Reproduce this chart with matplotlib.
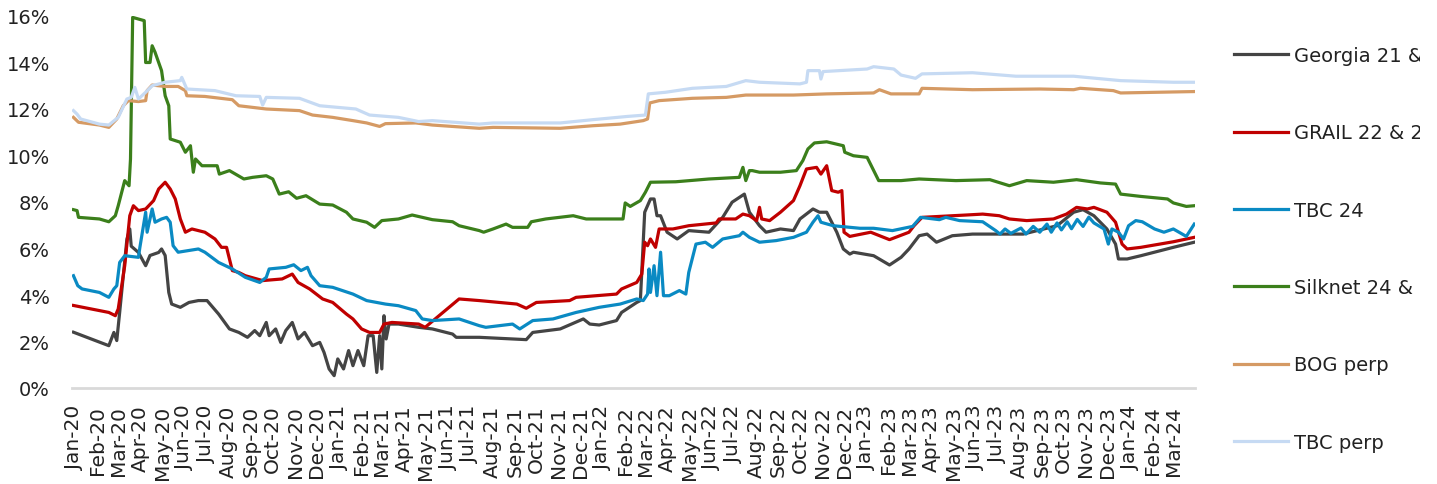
import matplotlib
matplotlib.use("Agg")
import matplotlib.pyplot as plt
import matplotlib.dates as mdates
from matplotlib.transforms import Bbox, TransformedBbox
import pandas as pd

plt.rcParams['font.family'] = ['DejaVu Sans']

labels = ["Georgia 21 & 26", "GRAIL 22 & 28", "TBC 24", "Silknet 24 & 27", "BOG perp", "TBC perp"]
colors = ["#444444", "#C00000", "#0A8AC3", "#3B7F1B", "#D59A64", "#C6DAF3"]

georgia = [("2019-12-30",2.40),("2020-02-17",1.82),("2020-02-24",2.39),("2020-02-28",2.04),("2020-03-03",3.25),
    ("2020-03-13",6.40),("2020-03-17",6.84),("2020-03-19",6.10),("2020-03-29",5.83),("2020-04-08",5.26),
    ("2020-04-14",5.70),("2020-04-26",5.83),("2020-04-30",5.98),("2020-05-05",5.70),("2020-05-10",4.11),
    ("2020-05-14",3.61),("2020-05-26",3.47),("2020-06-07",3.68),("2020-06-20",3.76),("2020-07-02",3.76),
    ("2020-07-18",3.18),("2020-08-02",2.54),("2020-08-15",2.39),("2020-08-27",2.18),("2020-09-06",2.47),
    ("2020-09-13",2.25),("2020-09-22",2.82),("2020-09-26",2.25),("2020-10-05",2.54),("2020-10-12",1.96),
    ("2020-10-19",2.47),("2020-10-28",2.82),("2020-11-05",2.11),("2020-11-14",2.39),("2020-11-25",1.82),
    ("2020-12-05",1.96),("2020-12-11",1.53),("2020-12-18",0.82),("2020-12-25",0.53),("2020-12-30",1.25),
    ("2021-01-07",0.82),("2021-01-14",1.61),("2021-01-20",0.96),("2021-01-27",1.61),("2021-02-04",0.96),
    ("2021-02-10",2.25),("2021-02-17",2.25),("2021-02-22",0.67),("2021-02-26",2.25),("2021-03-01",0.82),
    ("2021-03-04",3.11),("2021-03-07",2.11),("2021-03-11",2.75),("2021-03-24",2.75),("2021-04-21",2.61),
    ("2021-05-10",2.54),("2021-06-07",2.32),("2021-06-12",2.18),("2021-07-14",2.18),("2021-09-17",2.08),
    ("2021-09-26",2.39),("2021-11-03",2.54),("2021-12-05",2.97),("2021-12-14",2.75),("2021-12-27",2.71),
    ("2022-01-20",2.90),("2022-01-27",3.25),("2022-02-17",3.68),("2022-02-22",3.76),("2022-02-28",7.56),
    ("2022-03-08",8.13),("2022-03-13",8.13),("2022-03-17",7.41),("2022-03-22",7.41),("2022-03-31",6.70),
    ("2022-04-14",6.41),("2022-04-30",6.77),("2022-05-28",6.70),("2022-06-16",7.34),("2022-06-29",7.99),
    ("2022-07-16",8.34),("2022-07-23",7.56),("2022-08-06",6.98),("2022-08-15",6.70),("2022-09-04",6.84),
    ("2022-09-22",6.77),("2022-10-01",7.27),("2022-10-19",7.70),("2022-10-28",7.56),("2022-11-07",7.56),
    ("2022-11-21",6.70),("2022-11-30",5.98),("2022-12-09",5.76),("2022-12-14",5.84),("2023-01-11",5.69),
    ("2023-02-02",5.29),("2023-02-18",5.62),("2023-03-01",5.98),("2023-03-15",6.55),("2023-03-26",6.62),
    ("2023-04-08",6.27),("2023-04-30",6.55),("2023-05-28",6.62),("2023-06-25",6.62),("2023-08-06",6.62),
    ("2023-09-22",6.98),("2023-10-15",7.56),("2023-10-28",7.67),("2023-11-12",7.41),("2023-11-30",6.84),
    ("2023-12-12",6.19),("2023-12-16",5.55),("2023-12-28",5.55),("2024-01-16",5.69),("2024-03-01",6.05),
    ("2024-03-30",6.27)]

grail = [("2019-12-30",3.55),("2020-02-17",3.25),("2020-02-26",3.11),("2020-03-01",3.40),("2020-03-10",5.26),
    ("2020-03-17",7.41),("2020-03-22",7.84),("2020-03-29",7.63),("2020-04-08",7.70),("2020-04-19",8.06),
    ("2020-04-26",8.56),("2020-05-05",8.85),("2020-05-12",8.56),("2020-05-19",8.13),("2020-05-26",7.27),
    ("2020-06-02",6.70),("2020-06-11",6.84),("2020-06-29",6.70),("2020-07-13",6.41),("2020-07-22",6.05),
    ("2020-07-29",6.05),("2020-08-06",5.05),("2020-08-15",4.97),("2020-08-24",4.83),("2020-09-17",4.62),
    ("2020-10-14",4.69),("2020-10-28",4.90),("2020-11-05",4.54),("2020-11-21",4.26),("2020-12-09",3.83),
    ("2020-12-23",3.68),("2021-01-11",3.18),("2021-01-20",2.97),("2021-02-01",2.54),("2021-02-12",2.39),
    ("2021-02-26",2.39),("2021-03-04",2.75),("2021-03-15",2.82),("2021-04-21",2.75),("2021-04-30",2.61),
    ("2021-06-16",3.83),("2021-07-14",3.76),("2021-09-04",3.61),("2021-09-17",3.43),("2021-10-01",3.68),
    ("2021-11-16",3.76),("2021-11-25",3.90),("2022-01-20",4.04),("2022-01-27",4.26),("2022-02-17",4.54),
    ("2022-02-24",4.90),("2022-02-28",6.27),("2022-03-04",6.12),("2022-03-08",6.41),("2022-03-15",6.05),
    ("2022-03-20",6.84),("2022-04-08",6.84),("2022-04-30",6.98),("2022-06-07",7.10),("2022-06-11",7.27),
    ("2022-07-04",7.27),("2022-07-14",7.48),("2022-07-23",7.41),("2022-08-02",7.20),("2022-08-06",7.77),
    ("2022-08-09",7.27),("2022-08-20",7.20),("2022-09-04",7.56),("2022-09-22",8.06),("2022-10-01",8.70),
    ("2022-10-10",9.42),("2022-10-24",9.49),("2022-10-30",9.20),("2022-11-07",9.56),("2022-11-14",8.49),
    ("2022-11-23",8.42),("2022-11-28",8.49),("2022-12-01",6.70),("2022-12-09",6.52),("2023-01-07",6.70),
    ("2023-02-02",6.38),("2023-03-01",6.70),("2023-03-08",6.98),("2023-03-19",7.34),("2023-05-19",7.44),
    ("2023-06-11",7.48),("2023-07-04",7.41),("2023-07-18",7.27),("2023-08-11",7.20),("2023-09-17",7.27),
    ("2023-10-05",7.48),("2023-10-19",7.77),("2023-11-03",7.70),("2023-11-12",7.77),("2023-11-30",7.56),
    ("2023-12-12",7.13),("2023-12-21",6.19),("2023-12-28",5.98),("2024-01-16",6.05),("2024-03-01",6.29),
    ("2024-03-30",6.48)]

tbc24 = [("2019-12-30",4.83),("2020-01-05",4.40),("2020-01-11",4.26),("2020-02-04",4.11),("2020-02-17",3.90),
    ("2020-02-24",4.26),("2020-02-28",4.40),("2020-03-03",5.40),("2020-03-10",5.69),("2020-03-29",5.62),
    ("2020-03-31",6.05),("2020-04-08",7.56),("2020-04-10",6.70),("2020-04-17",7.70),("2020-04-21",7.13),
    ("2020-04-30",7.27),("2020-05-07",7.34),("2020-05-12",7.13),("2020-05-16",6.12),("2020-05-23",5.84),
    ("2020-06-20",5.98),("2020-06-29",5.84),("2020-07-18",5.40),("2020-08-06",5.12),("2020-08-24",4.76),
    ("2020-09-13",4.54),("2020-09-22",4.76),("2020-09-26",5.12),("2020-10-19",5.19),("2020-10-30",5.30),
    ("2020-11-09",5.05),("2020-11-18",5.19),("2020-11-23",4.83),("2020-12-05",4.40),("2020-12-23",4.33),
    ("2021-01-20",4.04),("2021-02-08",3.76),("2021-03-06",3.61),("2021-03-24",3.54),("2021-04-17",3.33),
    ("2021-04-26",2.97),("2021-05-10",2.90),("2021-06-16",2.97),("2021-07-14",2.68),("2021-07-23",2.61),
    ("2021-08-29",2.75),("2021-09-08",2.54),("2021-09-26",2.90),("2021-10-24",2.97),("2021-11-25",3.25),
    ("2021-12-27",3.47),("2022-01-25",3.61),("2022-02-17",3.83),("2022-02-26",3.76),("2022-03-04",4.04),
    ("2022-03-06",5.12),("2022-03-08",4.11),("2022-03-13",5.26),("2022-03-17",3.97),("2022-03-22",5.84),
    ("2022-03-26",3.97),("2022-04-03",3.97),("2022-04-17",4.19),("2022-04-26",4.04),("2022-04-30",4.97),
    ("2022-05-10",6.19),("2022-05-23",6.27),("2022-06-02",6.05),("2022-06-16",6.41),("2022-07-09",6.55),
    ("2022-07-14",6.70),("2022-07-23",6.48),("2022-08-06",6.27),("2022-08-29",6.34),("2022-09-22",6.48),
    ("2022-10-10",6.70),("2022-10-19",7.13),("2022-10-26",7.41),("2022-10-30",7.13),("2022-11-16",6.98),
    ("2022-12-23",6.87),("2023-01-11",6.87),("2023-02-06",6.77),("2023-03-06",6.95),("2023-03-17",7.34),
    ("2023-04-12",7.24),("2023-04-21",7.34),("2023-05-10",7.20),("2023-06-11",7.15),("2023-06-29",6.77),
    ("2023-07-05",6.62),("2023-07-12",6.84),("2023-07-20",6.65),("2023-08-03",6.88),("2023-08-10",6.62),
    ("2023-08-20",6.95),("2023-08-29",6.70),("2023-09-08",7.05),("2023-09-14",6.70),("2023-09-22",7.10),
    ("2023-09-28",6.80),("2023-10-06",7.15),("2023-10-12",6.85),("2023-10-20",7.25),("2023-10-28",6.95),
    ("2023-11-05",7.35),("2023-11-12",7.10),("2023-11-26",6.84),("2023-12-02",6.19),("2023-12-07",6.84),
    ("2023-12-16",6.70),("2023-12-23",6.41),("2023-12-30",6.98),("2024-01-09",7.20),("2024-01-18",7.15),
    ("2024-02-04",6.84),("2024-02-17",6.70),("2024-03-01",6.84),("2024-03-19",6.52),("2024-03-30",7.05)]

silknet = [("2019-12-30",7.67),("2020-01-04",7.63),("2020-01-06",7.34),("2020-02-04",7.27),("2020-02-17",7.15),
    ("2020-02-26",7.41),("2020-03-01",7.84),("2020-03-10",8.92),("2020-03-16",8.70),("2020-03-18",9.85),
    ("2020-03-21",15.94),("2020-03-29",15.87),("2020-04-06",15.80),("2020-04-08",14.00),("2020-04-14",14.00),
    ("2020-04-17",14.72),("2020-04-21",14.44),("2020-04-30",13.65),("2020-05-05",12.57),("2020-05-10",12.14),
    ("2020-05-12",10.71),("2020-05-26",10.57),("2020-06-02",10.14),("2020-06-09",10.42),("2020-06-13",9.28),
    ("2020-06-16",9.85),("2020-06-25",9.56),("2020-07-16",9.56),("2020-07-19",9.20),("2020-08-02",9.35),
    ("2020-08-22",8.99),("2020-09-03",9.06),("2020-09-22",9.13),("2020-10-01",8.99),("2020-10-10",8.34),
    ("2020-10-23",8.44),("2020-11-03",8.16),("2020-11-16",8.27),("2020-12-05",7.91),("2020-12-23",7.87),
    ("2021-01-11",7.56),("2021-01-20",7.27),("2021-02-08",7.13),("2021-02-19",6.91),("2021-03-01",7.20),
    ("2021-03-24",7.27),("2021-04-12",7.44),("2021-05-10",7.24),("2021-06-07",7.15),("2021-06-16",6.98),
    ("2021-07-14",6.77),("2021-07-20",6.70),("2021-08-02",6.84),("2021-08-20",7.05),("2021-08-29",6.91),
    ("2021-09-19",6.91),("2021-09-24",7.15),("2021-10-14",7.27),("2021-11-21",7.41),("2021-12-09",7.27),
    ("2022-01-29",7.27),("2022-02-01",7.96),("2022-02-08",7.81),("2022-02-22",8.06),("2022-03-01",8.42),
    ("2022-03-08",8.85),("2022-04-12",8.87),("2022-05-28",8.99),("2022-07-09",9.06),("2022-07-14",9.49),
    ("2022-07-18",8.92),("2022-07-23",9.35),("2022-07-27",9.35),("2022-08-06",9.28),("2022-09-04",9.28),
    ("2022-09-26",9.35),("2022-10-05",9.78),("2022-10-12",10.28),("2022-10-21",10.54),("2022-11-07",10.59),
    ("2022-11-30",10.42),("2022-12-02",10.14),("2022-12-14",9.99),("2023-01-02",9.92),("2023-01-18",8.92),
    ("2023-02-18",8.92),("2023-03-15",8.99),("2023-05-05",8.92),("2023-06-21",8.96),("2023-07-18",8.70),
    ("2023-08-11",8.92),("2023-09-17",8.85),("2023-10-19",8.96),("2023-11-21",8.82),("2023-12-12",8.77),
    ("2023-12-19",8.34),("2024-01-16",8.24),("2024-02-22",8.13),("2024-03-01",7.96),("2024-03-19",7.81),
    ("2024-03-30",7.84)]

bog_perp = [("2019-12-30",11.64),("2020-01-06",11.43),("2020-02-04",11.31),("2020-02-17",11.21),("2020-02-28",11.57),
    ("2020-03-08",12.14),("2020-03-15",12.36),("2020-03-29",12.32),("2020-04-08",12.36),("2020-04-10",12.79),
    ("2020-04-17",13.03),("2020-05-05",12.97),("2020-05-23",12.97),("2020-06-02",12.79),("2020-06-04",12.57),
    ("2020-06-29",12.54),("2020-08-06",12.40),("2020-08-15",12.14),("2020-09-22",12.00),("2020-11-07",11.93),
    ("2020-11-25",11.74),("2020-12-23",11.64),("2021-01-20",11.50),("2021-02-08",11.40),("2021-02-26",11.25),
    ("2021-03-06",11.37),("2021-04-17",11.40),("2021-05-10",11.31),("2021-07-14",11.17),("2021-08-02",11.21),
    ("2021-11-03",11.17),("2021-12-18",11.28),("2022-01-25",11.35),("2022-02-26",11.50),("2022-03-04",11.57),
    ("2022-03-07",12.26),("2022-03-20",12.36),("2022-05-05",12.46),("2022-06-21",12.50),("2022-07-18",12.60),
    ("2022-09-22",12.60),("2022-11-07",12.65),("2023-01-11",12.69),("2023-01-19",12.83),("2023-02-04",12.65),
    ("2023-03-15",12.65),("2023-03-19",12.89),("2023-05-28",12.83),("2023-08-29",12.86),("2023-10-15",12.83),
    ("2023-10-24",12.89),("2023-12-09",12.79),("2023-12-19",12.69),("2024-03-30",12.75)]

tbc_perp = [("2019-12-30",11.93),("2020-01-04",11.78),("2020-01-09",11.57),("2020-02-04",11.35),("2020-02-17",11.31),
    ("2020-03-01",11.64),("2020-03-13",12.43),("2020-03-19",12.50),("2020-03-24",12.93),("2020-03-29",12.43),
    ("2020-04-08",12.72),("2020-04-17",13.00),("2020-05-05",13.15),("2020-05-26",13.22),("2020-05-28",13.36),
    ("2020-06-04",12.86),("2020-07-13",12.79),("2020-08-11",12.57),("2020-09-13",12.54),("2020-09-17",12.17),
    ("2020-09-22",12.50),("2020-11-07",12.46),("2020-12-05",12.14),("2021-01-24",12.00),("2021-02-12",11.74),
    ("2021-03-24",11.64),("2021-04-21",11.46),("2021-05-10",11.50),("2021-07-14",11.35),("2021-08-02",11.40),
    ("2021-11-03",11.40),("2021-12-18",11.54),("2022-02-04",11.68),("2022-03-01",11.74),("2022-03-05",12.65),
    ("2022-03-29",12.72),("2022-05-05",12.89),("2022-06-21",12.97),("2022-07-18",13.22),("2022-08-06",13.15),
    ("2022-10-01",13.08),("2022-10-10",13.15),("2022-10-12",13.65),("2022-10-28",13.65),("2022-10-30",13.29),
    ("2022-11-02",13.61),("2023-01-02",13.72),("2023-01-11",13.82),("2023-02-08",13.72),("2023-02-18",13.46),
    ("2023-03-10",13.32),("2023-03-19",13.51),("2023-05-28",13.56),("2023-07-27",13.41),("2023-10-15",13.41),
    ("2023-12-19",13.22),("2024-03-01",13.15),("2024-03-30",13.15)]

series = [georgia, grail, tbc24, silknet, bog_perp, tbc_perp]

fig = plt.figure(figsize=(14.37, 4.85), dpi=100)
ax = fig.add_axes([72/1437, 1-389/485, (1195-72)/1437, (389-17)/485])

handles = []
for data, lab, col in zip(series, labels, colors):
    d = pd.to_datetime([p[0] for p in data])
    v = [p[1] for p in data]
    h, = ax.plot(d, v, color=col, lw=2.3, label=lab, solid_joinstyle='round')
    handles.append(h)

ax.set_ylim(0, 16)
ax.set_yticks(range(0, 17, 2))
ax.set_yticklabels([f"{t}%" for t in range(0, 17, 2)])
ax.set_xlim(pd.Timestamp("2019-12-28"), pd.Timestamp("2024-03-31"))
ax.xaxis.set_major_locator(mdates.MonthLocator())
ax.xaxis.set_major_formatter(mdates.DateFormatter("%b-%y"))
ax.tick_params(axis='both', length=0, colors="#222222")
ax.tick_params(axis='y', labelsize=14, pad=16)
ax.tick_params(axis='x', labelsize=14.5, pad=12)
fig.canvas.draw()
for lbl in ax.get_xticklabels():
    lbl.set_rotation(90)
    lbl.set_rotation_mode('anchor')
    lbl.set_horizontalalignment('right')
    lbl.set_verticalalignment('center')
for s in ["top", "right", "left"]:
    ax.spines[s].set_visible(False)
ax.spines["bottom"].set_color("#D9D9D9")
ax.spines["bottom"].set_linewidth(2)

leg = fig.legend(handles=handles, labels=labels, loc="upper left",
           bbox_to_anchor=(1234/1437, 1-47/485), frameon=False, fontsize=14,
           handlelength=2.78, handletextpad=0.28, labelspacing=3.0,
           borderpad=0, borderaxespad=0)

clip = TransformedBbox(Bbox([[0, 0], [1420/1437, 1]]), fig.transFigure)
for t in leg.get_texts():
    t.set_color("#222222")
    t.set_clip_box(clip)
    t.set_clip_on(True)

fig.savefig("out.png", dpi=100)
